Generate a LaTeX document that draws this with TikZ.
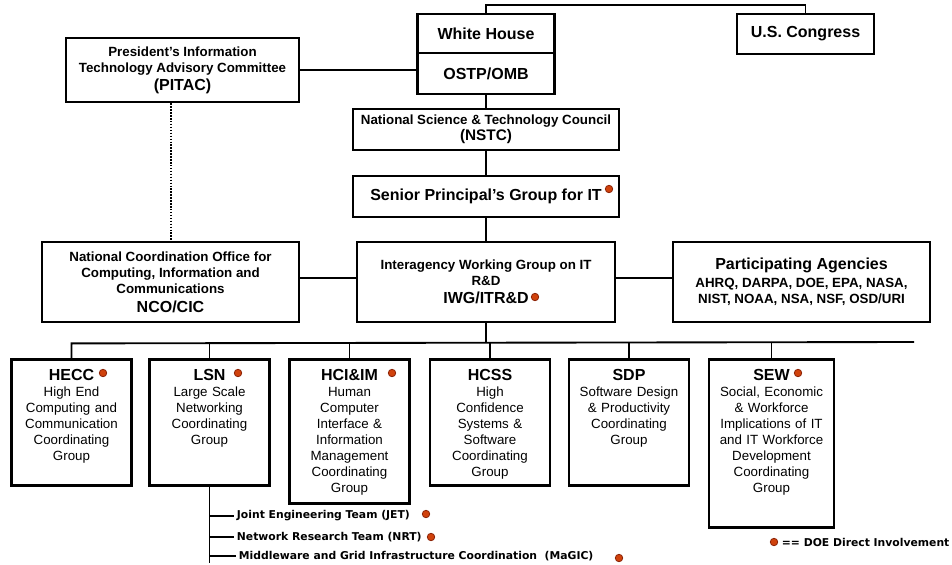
\documentclass[tikz,border=0pt]{standalone}
\usepackage{fontspec}
\setmainfont{Liberation Sans}
\newfontfamily\dvsans{DejaVu Sans}
\usepackage{tikz}

\definecolor{doefill}{RGB}{208,66,12}
\definecolor{doeline}{RGB}{140,36,8}
\newcommand{\txtS}{\fontsize{10pt}{12pt}\selectfont}
\newcommand{\txtM}{\fontsize{11.5pt}{13pt}\selectfont}
\newcommand{\txtL}{\fontsize{12pt}{14pt}\selectfont}
\newcommand{\txtT}{\dvsans\bfseries\fontsize{8.1pt}{10pt}\selectfont}

\begin{document}
\begin{tikzpicture}[x=0.75pt,y=-0.75pt,
      unit/.style={draw,line width=2.1pt,inner sep=0pt,align=center,font=\txtS\bfseries},
      grp/.style={draw,line width=2.1pt,anchor=north,inner xsep=3pt,inner ysep=7pt,
        text width=84pt,align=center,font=\txtS,text height=9pt,text depth=71.5pt},
      team/.style={anchor=west,inner sep=2pt,font=\txtT},
      doe/.style={circle,draw=doeline,fill=doefill,line width=0.6pt,inner sep=0pt,minimum size=5.6pt},
      link/.style={line width=1.4pt},
      dotline/.style={line width=1.5pt,dash pattern=on 1.1pt off 1.1pt}]
  \useasboundingbox (0,0) rectangle (952,564);
  % top level
  \node[unit,minimum width=102.75pt,minimum height=29.25pt,font=\txtL\bfseries] (wh) at (486,33.5) {White House};
  \node[unit,minimum width=102.75pt,minimum height=30.75pt,font=\txtL\bfseries] (ostp) at (486,73.5) {OSTP/OMB};
  \node[unit,minimum width=102.75pt,minimum height=30pt,font=\txtL\bfseries] (cong) at (805.5,34) {U.S. Congress};
  \node[unit,minimum width=174.75pt,minimum height=48pt] (pitac) at (182.5,70)
    {President's Information\\Technology Advisory Committee\\[1.5pt]{\txtL (PITAC)}};
  \node[unit,minimum width=199.5pt,minimum height=30.75pt] (nstc) at (486,129.5)
    {National Science \& Technology Council\\{\txtM (NSTC)}};
  \node[unit,minimum width=199.5pt,minimum height=30.75pt,font=\txtL\bfseries] (senior) at (486,196.5)
    {Senior Principal's Group for IT};
  % coordination level
  \node[unit,minimum width=193.5pt,minimum height=60pt] (iwg) at (486,282)
    {Interagency Working Group on IT\\R\&D\\[1.5pt]{\txtL IWG/ITR\&D}};
  \node[unit,minimum width=192.75pt,minimum height=60pt] (nco) at (170.5,282)
    {National Coordination Office for\\Computing, Information and\\Communications\\[2pt]{\txtL NCO/CIC}};
  \node[unit,minimum width=192.75pt,minimum height=60pt] (pa) at (801.5,282)
    {{\txtL Participating Agencies}\\[1.5pt]AHRQ, DARPA, DOE, EPA, NASA,\\NIST, NOAA, NSA, NSF, OSD/URI};
  % coordinating groups
  \node[grp] (hecc) at (71.5,358)
    {{\txtL\bfseries HECC}\\High End\\Computing and\\Communication\\Coordinating\\Group};
  \node[grp] (lsn) at (209.5,358)
    {{\txtL\bfseries LSN}\\Large Scale\\Networking\\Coordinating\\Group};
  \node[grp,text depth=85pt] (hci) at (349.5,358)
    {{\txtL\bfseries HCI\&IM}\\Human\\Computer\\Interface \&\\Information\\Management\\Coordinating\\Group};
  \node[grp] (hcss) at (490,358)
    {{\txtL\bfseries HCSS}\\High\\Confidence\\Systems \&\\Software\\Coordinating\\Group};
  \node[grp] (sdp) at (629,358)
    {{\txtL\bfseries SDP}\\Software Design\\\& Productivity\\Coordinating\\Group};
  \node[grp,text width=87.75pt,text depth=103pt] (sew) at (771.5,358)
    {{\txtL\bfseries SEW}\\Social, Economic\\\& Workforce\\Implications of IT\\and IT Workforce\\Development\\Coordinating\\Group};
  % LSN teams
  \node[team] (jet) at (234,516) {Joint Engineering Team (JET)};
  \node[team] (nrt) at (234,537) {Network Research Team (NRT)};
  \node[team] (magic) at (236,556) {Middleware and Grid Infrastructure Coordination~~(MaGIC)};
  \node[team] (key) at (779,542) {== DOE Direct Involvement};
  % DOE marks
  \node[doe] (seniordot) at (609,189) {};
  \node[doe] (iwgdot) at (535,297) {};
  \foreach \g/\x in {hecc/103,lsn/238,hci/392,sew/798}
    \node[doe] (\g dot) at (\x,373) {};
  \node[doe] (jetdot) at (426,514) {};
  \node[doe] (nrtdot) at (431,537) {};
  \node[doe] (magicdot) at (619,558) {};
  \node[doe] (keydot) at (774,542) {};
  % connectors
  \draw[link] (wh.north) -- ++(0,-8) -| (cong.north);
  \draw[link] (pitac.east) -- (pitac.east -| ostp.west);
  \draw[dotline] (nco.north |- pitac.south) -- (nco.north);
  \draw[link] (ostp.south) -- (nstc.north);
  \draw[link] (nstc.south) -- (senior.north);
  \draw[link] (senior.south) -- (iwg.north);
  \draw[link] ([yshift=3pt]nco.east) -- ([yshift=3pt]iwg.west);
  \draw[link] ([yshift=3pt]iwg.east) -- ([yshift=3pt]pa.west);
  \draw[link] (iwg.south) -- ++(0,20) coordinate (busmid);
  \coordinate (busend) at (914,342);
  \draw[link] (hecc.north) -- (hecc.north |- busmid) -- (busend);
  \foreach \g in {lsn,hci,hcss,sdp,sew}
    \draw[link] (\g.north) -- (\g.north |- busmid);
  \draw[link] (lsn.south) -- ++(0,76) coordinate (trunk);
  \foreach \t in {jet,nrt,magic}
    \draw[link] (lsn.south |- \t.west) -- (\t.west);
\end{tikzpicture}
\end{document}
